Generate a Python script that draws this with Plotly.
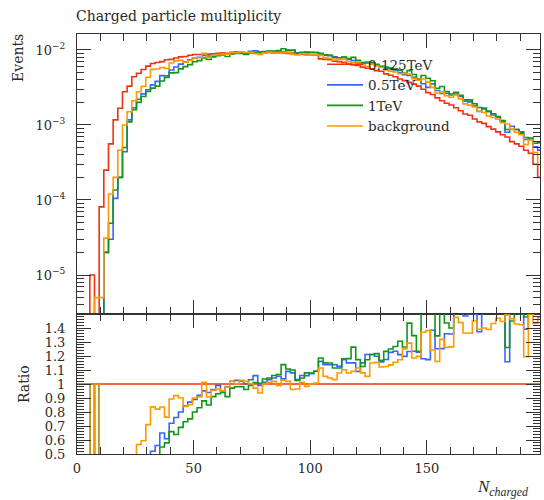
import numpy as np
import plotly.graph_objects as go

# ---------------- data ----------------
bin_low = -0.5
bin_width = 2.0
n_bins = 100

series_names = ["0.125TeV", "0.5TeV", "1TeV", "background"]
series_colors = ["#EE3311", "#3366FF", "#109618", "#FF9900"]

v_0125 = [0, 0, 0, 1.0e-5, 0, 8.1e-5, 2.5e-4, 5.6e-4, 1.17e-3, 1.67e-3,
          2.78e-3, 3.3e-3, 4.4e-3, 4.9e-3, 5.5e-3, 6.1e-3, 6.6e-3, 6.8e-3, 7.0e-3, 7.4e-3,
          7.5e-3, 7.8e-3, 8.1e-3, 8.2e-3, 8.5e-3, 8.7e-3, 8.7e-3, 8.9e-3, 8.8e-3, 8.9e-3,
          9.0e-3, 9.1e-3, 9.0e-3, 9.1e-3, 9.2e-3, 9.2e-3, 9.1e-3, 9.3e-3, 9.2e-3, 9.3e-3,
          9.2e-3, 9.3e-3, 9.1e-3, 9.2e-3, 9.1e-3, 9.0e-3, 9.1e-3, 8.9e-3, 8.8e-3, 8.7e-3,
          8.6e-3, 8.5e-3, 7.6e-3, 7.5e-3, 7.4e-3, 7.1e-3, 7.0e-3, 6.8e-3, 6.5e-3, 6.3e-3,
          6.2e-3, 5.9e-3, 5.7e-3, 5.6e-3, 5.3e-3, 5.2e-3, 4.8e-3, 4.6e-3, 4.4e-3, 4.1e-3,
          3.9e-3, 3.7e-3, 3.5e-3, 3.3e-3, 3.0e-3, 2.7e-3, 2.55e-3, 2.3e-3, 2.1e-3, 1.95e-3,
          1.85e-3, 1.7e-3, 1.55e-3, 1.4e-3, 1.35e-3, 1.2e-3, 1.1e-3, 1.05e-3, 9.5e-4, 8.8e-4,
          8.1e-4, 7.4e-4, 6.9e-4, 6.0e-4, 5.6e-4, 5.2e-4, 4.6e-4, 4.2e-4, 3.0e-4, 2.0e-4]

v_05 = [0, 0, 0, 0, 0, 0, 2.0e-5, 3.0e-5, 1.05e-4, 2.0e-4,
        4.4e-4, 1.17e-3, 1.7e-3, 2.2e-3, 2.6e-3, 2.95e-3, 3.43e-3, 3.81e-3, 4.55e-3, 4.51e-3,
        5.40e-3, 5.93e-3, 6.48e-3, 6.93e-3, 7.40e-3, 7.74e-3, 8.00e-3, 8.46e-3, 8.27e-3, 8.54e-3,
        8.91e-3, 8.65e-3, 8.82e-3, 9.28e-3, 9.44e-3, 9.38e-3, 9.12e-3, 9.58e-3, 9.75e-3, 9.21e-3,
        9.31e-3, 9.59e-3, 9.49e-3, 9.71e-3, 9.43e-3, 9.81e-3, 9.82e-3, 9.18e-3, 9.33e-3, 9.22e-3,
        9.24e-3, 9.27e-3, 8.83e-3, 8.54e-3, 8.42e-3, 8.08e-3, 7.88e-3, 7.98e-3, 7.48e-3, 7.25e-3,
        6.76e-3, 6.79e-3, 6.90e-3, 6.78e-3, 6.35e-3, 6.02e-3, 5.64e-3, 5.64e-3, 5.43e-3, 4.96e-3,
        4.67e-3, 4.56e-3, 4.32e-3, 4.05e-3, 3.54e-3, 3.17e-3, 3.53e-3, 2.88e-3, 2.63e-3, 2.65e-3,
        2.51e-3, 2.58e-3, 2.40e-3, 2.08e-3, 2.03e-3, 1.80e-3, 1.51e-3, 1.63e-3, 1.52e-3, 1.36e-3,
        1.26e-3, 1.12e-3, 8.0e-4, 9.6e-4, 8.7e-4, 8.1e-4, 6.4e-4, 6.5e-4, 5.1e-4, 4.6e-4]

v_1 = [0, 0, 0, 0, 0, 0, 2.0e-5, 4.9e-5, 1.36e-4, 2.0e-4,
       5.0e-4, 1.1e-3, 1.6e-3, 2.0e-3, 2.4e-3, 2.8e-3, 3.1e-3, 3.3e-3, 3.85e-3, 4.29e-3,
       4.95e-3, 4.99e-3, 5.59e-3, 5.99e-3, 6.38e-3, 6.96e-3, 7.22e-3, 7.83e-3, 7.48e-3, 8.10e-3,
       8.37e-3, 8.55e-3, 8.19e-3, 8.83e-3, 9.02e-3, 9.02e-3, 8.74e-3, 9.21e-3, 9.29e-3, 9.35e-3,
       9.53e-3, 9.70e-3, 9.65e-3, 9.82e-3, 1.036e-2, 9.96e-3, 1.001e-2, 9.13e-3, 9.18e-3, 9.39e-3,
       9.28e-3, 9.27e-3, 9.01e-3, 8.63e-3, 8.51e-3, 7.91e-3, 7.80e-3, 8.03e-3, 7.68e-3, 7.96e-3,
       7.28e-3, 6.64e-3, 6.69e-3, 6.78e-3, 6.45e-3, 6.08e-3, 5.92e-3, 5.75e-3, 5.58e-3, 5.35e-3,
       4.93e-3, 5.31e-3, 4.71e-3, 4.07e-3, 4.56e-3, 4.19e-3, 3.88e-3, 3.09e-3, 3.26e-3, 2.80e-3,
       2.59e-3, 2.72e-3, 2.48e-3, 2.17e-3, 2.16e-3, 1.92e-3, 1.71e-3, 1.68e-3, 1.52e-3, 1.41e-3,
       1.30e-3, 1.15e-3, 8.7e-4, 8.7e-4, 8.7e-4, 7.8e-4, 6.8e-4, 6.7e-4, 5.7e-4, 5.8e-4]

v_bkg = [0, 0, 0, 0, 5e-6, 5e-6, 3.1e-5, 1.2e-4, 2.0e-4, 4.6e-4,
         1.0e-3, 1.5e-3, 2.1e-3, 2.78e-3, 3.27e-3, 4.33e-3, 5.52e-3, 5.58e-3, 5.85e-3, 5.65e-3,
         6.70e-3, 7.15e-3, 7.29e-3, 6.89e-3, 7.24e-3, 7.83e-3, 7.89e-3, 9.01e-3, 7.98e-3, 8.50e-3,
         8.68e-3, 8.66e-3, 8.81e-3, 9.27e-3, 9.22e-3, 9.44e-3, 9.27e-3, 9.32e-3, 8.93e-3, 8.70e-3,
         9.20e-3, 9.41e-3, 9.27e-3, 9.09e-3, 9.34e-3, 9.17e-3, 8.74e-3, 8.58e-3, 8.91e-3, 8.55e-3,
         8.60e-3, 8.56e-3, 8.47e-3, 7.91e-3, 7.72e-3, 7.32e-3, 7.55e-3, 7.49e-3, 7.01e-3, 6.87e-3,
         6.91e-3, 6.37e-3, 6.01e-3, 6.44e-3, 6.12e-3, 5.83e-3, 5.40e-3, 5.23e-3, 5.08e-3, 4.81e-3,
         4.88e-3, 4.78e-3, 4.15e-3, 3.95e-3, 4.11e-3, 3.73e-3, 3.17e-3, 2.67e-3, 2.77e-3, 2.46e-3,
         2.34e-3, 2.51e-3, 2.23e-3, 1.91e-3, 1.84e-3, 1.74e-3, 1.53e-3, 1.47e-3, 1.32e-3, 1.26e-3,
         1.19e-3, 1.07e-3, 1.03e-3, 8.8e-4, 8.0e-4, 7.4e-4, 5.5e-4, 6.3e-4, 4.3e-4, 2.95e-4]

series_values = [v_0125, v_05, v_1, v_bkg]

ratio_ticks = [0.5, 0.6, 0.7, 0.8, 0.9, 1.0, 1.1, 1.2, 1.3, 1.4]
ratio_ticktext = ["0.5", "0.6", "0.7", "0.8", "0.9", "1", "1.1", "1.2", "1.3", "1.4"]
log_decades = [1e-5, 1e-4, 1e-3, 1e-2]
log_ticktext = ["10<sup>−5</sup>", "10<sup>−4</sup>", "10<sup>−3</sup>", "10<sup>−2</sup>"]

title_text = "Charged particle multiplicity"
ylabel_top = "Events"
ylabel_ratio = "Ratio"

# ---------------- figure ----------------
edges = bin_low + bin_width * np.arange(n_bins + 1)
ref = np.array(v_0125, dtype=float)

FONT = "DejaVu Serif"
AX = "#333333"
TXT = "#2a2a2a"

fig = go.Figure()
for name, col, vals in zip(series_names, series_colors, series_values):
    v = np.array(vals, dtype=float)
    vplot = np.where(v > 0, v, 1e-12)
    fig.add_trace(go.Scatter(
        x=edges, y=np.append(vplot, vplot[-1]), mode="lines", line_shape="hv",
        line=dict(color=col, width=1.6), name=name, xaxis="x", yaxis="y",
        showlegend=True, hoverinfo="skip"))
for name, col, vals in zip(series_names, series_colors, series_values):
    v = np.array(vals, dtype=float)
    with np.errstate(divide="ignore", invalid="ignore"):
        r = np.where(ref > 0, v / np.where(ref > 0, ref, 1), 1.0)
    fig.add_trace(go.Scatter(
        x=edges, y=np.append(r, r[-1]), mode="lines", line_shape="hv",
        line=dict(color=col, width=1.6), name=name, xaxis="x2", yaxis="y2",
        showlegend=False, hoverinfo="skip"))

xr = [0, 198.5]
common_x = dict(range=xr, ticks="inside", ticklen=14, tickcolor=AX, dtick=50, tick0=0,
                minor=dict(ticks="inside", ticklen=7, dtick=10, tick0=0, tickcolor=AX),
                showline=True, linecolor=AX, linewidth=1, mirror="allticks",
                showgrid=False, zeroline=False)

fig.update_layout(
    width=544, height=500,
    margin=dict(l=77, r=4, t=34, b=46),
    paper_bgcolor="white", plot_bgcolor="white",
    font=dict(family=FONT, size=13, color=TXT),
    xaxis=dict(domain=[0, 1], anchor="y", showticklabels=False, **common_x),
    xaxis2=dict(domain=[0, 1], anchor="y2", showticklabels=True,
                tickfont=dict(size=13), ticklabelstandoff=2, **common_x),
    yaxis=dict(domain=[1/3, 1], type="log", range=[-5.52, -1.787], tickvals=log_decades,
               ticktext=log_ticktext, ticks="inside", ticklen=14, tickcolor=AX,
               minor=dict(ticks="inside", ticklen=7, dtick="D1", tickcolor=AX),
               showline=True, linecolor=AX, linewidth=1, mirror="allticks",
               showgrid=False, zeroline=False, tickfont=dict(size=13),
               ticklabelstandoff=8),
    yaxis2=dict(domain=[0, 1/3], range=[0.5, 1.5], tickvals=ratio_ticks,
                ticktext=ratio_ticktext, ticks="inside", ticklen=14, tickcolor=AX,
                minor=dict(ticks="inside", ticklen=7, dtick=0.02, tick0=0.5, tickcolor=AX),
                showline=True, linecolor=AX, linewidth=1, mirror="allticks",
                showgrid=False, zeroline=False, tickfont=dict(size=13),
                ticklabelstandoff=8),
    legend=dict(x=(322 - 77) / 463, y=(454 - 49) / 420, xanchor="left", yanchor="top",
                bgcolor="rgba(0,0,0,0)", borderwidth=0, font=dict(size=13.5, family=FONT),
                tracegroupgap=0, itemwidth=36),
    showlegend=True,
)

fig.add_annotation(text=title_text, xref="paper", yref="paper", x=-3 / 463,
                   y=(454 - 16) / 420, xanchor="left", yanchor="middle", showarrow=False,
                   font=dict(size=14, family=FONT, color=TXT))
fig.add_annotation(text=ylabel_top, xref="paper", yref="paper", x=(18 - 77) / 463,
                   y=(454 - 58) / 420, xanchor="center", yanchor="middle", textangle=-90,
                   showarrow=False, font=dict(size=14, family=FONT, color=TXT))
fig.add_annotation(text=ylabel_ratio, xref="paper", yref="paper", x=(24 - 77) / 463,
                   y=(454 - 384) / 420, xanchor="center", yanchor="middle", textangle=-90,
                   showarrow=False, font=dict(size=14, family=FONT, color=TXT))
fig.add_annotation(text="<i>N</i><sub><i>charged</i></sub>", xref="paper", yref="paper",
                   x=(530 - 77) / 463, y=(454 - 488) / 420, xanchor="right",
                   yanchor="middle", showarrow=False,
                   font=dict(size=17, family="Liberation Serif", color=TXT))

fig.write_html("out.html")
